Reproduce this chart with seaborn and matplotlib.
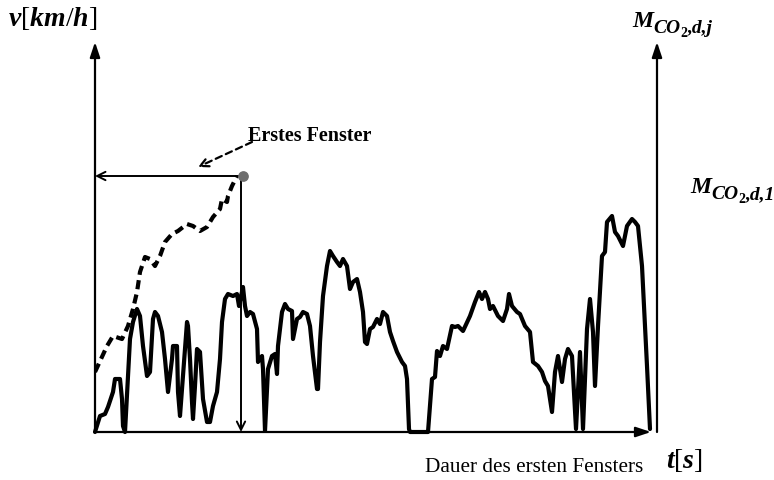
import matplotlib
matplotlib.use("Agg")
import matplotlib.pyplot as plt
import seaborn as sns
import pandas as pd

sns.set_style("white")
plt.rcParams['mathtext.fontset'] = 'custom'
plt.rcParams['mathtext.it'] = 'Liberation Serif:italic:bold'
plt.rcParams['mathtext.rm'] = 'Liberation Serif'
plt.rcParams['mathtext.bf'] = 'Liberation Serif:bold'
plt.rcParams['font.family'] = ['Liberation Serif', 'DejaVu Serif']
plt.rcParams['text.color'] = 'black'

# speed profile (t in s, v in km/h, schematic)
t_speed = [0, 10, 20, 26, 36, 40, 50, 54, 56, 60, 70, 76, 84, 90, 96, 104, 110, 116, 120, 126,
           134, 140, 146, 154, 156, 164, 166, 170, 176, 184, 186, 190, 194, 196, 200, 204, 210,
           216, 224, 230, 236, 244, 250, 254, 260, 266, 276, 284, 288, 294, 296, 300, 304, 310,
           316, 324, 326, 334, 336, 340, 346, 354, 360, 364, 366, 374, 380, 386, 394, 396, 404,
           410, 416, 424, 430, 436, 444, 446, 450, 456, 464, 470, 476, 484, 490, 496, 504, 510,
           516, 524, 530, 536, 540, 544, 550, 556, 564, 570, 576, 584, 590, 596, 604, 614, 620,
           624, 628, 630, 666, 674, 680, 684, 690, 696, 704, 714, 720, 726, 736, 750, 760, 768,
           774, 780, 786, 790, 796, 806, 816, 824, 828, 834, 844, 850, 860, 870, 876, 886, 894,
           900, 906, 914, 920, 926, 934, 940, 946, 954, 962, 970, 976, 984, 990, 996, 1000, 1006,
           1014, 1020, 1024, 1034, 1040, 1046, 1056, 1064, 1074, 1080, 1086, 1094, 1104, 1110]
v_speed = [0, 8, 9, 12.5, 20, 26.5, 26.5, 16.5, 3, 0, 46.5, 55, 61.5, 58, 43, 28, 30, 56.5, 60, 58,
           50, 36.5, 20, 36.5, 43, 43, 20, 8, 28, 55, 53, 36.5, 15, 6.5, 23, 41.5, 40,
           16.5, 5, 5, 13, 20, 36.5, 55, 66.5, 69, 68, 69, 63, 70, 72.5, 63, 58, 60,
           59, 51.5, 35, 38, 31.5, 0.5, 31.5, 38, 39, 29, 43, 60, 64, 61.5, 60.5, 46.5, 56.5,
           57.5, 60, 59, 53, 38, 21.5, 21.5, 45, 68, 83, 90.5, 88, 85, 83, 86.5, 83, 71.5,
           75, 76.5, 70, 60, 45, 44, 51.5, 52.5, 56.5, 54, 60, 58, 50, 45.5, 40, 35, 33,
           26.5, 1.5, 0, 0, 26.5, 27.5, 40.5, 38, 43, 41.5, 53, 52.5, 53, 50.5, 58, 65, 70,
           66.5, 70, 66.5, 61.5, 63, 58, 55.5, 61.5, 69, 63, 60, 59, 53, 50, 35, 33, 30,
           25.5, 23, 10, 30, 38, 25, 36.5, 41.5, 38, 1.5, 40, 1.5, 51.5, 66.5, 50, 23, 53,
           88, 90, 105, 108, 100, 98, 93, 103, 106.5, 105, 103, 83, 33, 1.5]

# CO2 mass in first window (dashed, cumulative)
t_co2 = [0, 24, 36, 54, 66, 76, 84, 90, 100, 110, 120, 130, 140, 154, 166, 184, 196, 210,
         224, 236, 250, 254, 264, 266, 274, 284]
m_co2 = [30, 43, 48, 46.5, 53, 61.5, 70, 80, 87.5, 86.5, 83, 88, 95, 99, 100.5, 104, 103, 100.5,
         102.5, 107.5, 111.5, 116.5, 115, 118, 123, 128]

t_window_end = 292
t_dot = 296
m_window = 128

W, H = 774, 481
fig = plt.figure(figsize=(W / 100, H / 100), dpi=100)
ax = fig.add_axes([95 / W, 48 / H, 562 / W, 390 / H])
ax.set_xlim(0, 1124)
ax.set_ylim(0, 195)
for s in ax.spines.values():
    s.set_visible(False)
ax.set_xticks([])
ax.set_yticks([])

df_speed = pd.DataFrame({"t": t_speed, "v": v_speed})
df_co2 = pd.DataFrame({"t": t_co2, "m": m_co2})

sns.lineplot(data=df_speed, x="t", y="v", ax=ax, sort=False, estimator=None,
             color="black", lw=3, clip_on=False, zorder=3)
sns.lineplot(data=df_co2, x="t", y="m", ax=ax, sort=False, estimator=None,
             color="black", lw=3, dashes=False, zorder=3)
ax.lines[-1].set_dashes((2.2, 1.3))
ax.set_xlabel("")
ax.set_ylabel("")

axis_arrow = dict(arrowstyle="-|>,head_length=0.9,head_width=0.3", lw=1.6, color="black",
                  shrinkA=0, shrinkB=0)
ax.annotate("", xy=(0, 195), xytext=(0, 0), arrowprops=axis_arrow, annotation_clip=False)
ax.annotate("", xy=(1124, 195), xytext=(1124, 0), arrowprops=axis_arrow, annotation_clip=False)
ax.annotate("", xy=(1112, 0), xytext=(0, 0), arrowprops=axis_arrow, annotation_clip=False)

thin_arrow = dict(arrowstyle="->,head_length=0.6,head_width=0.3", lw=1.4, color="black",
                  shrinkA=0, shrinkB=0)
ax.annotate("", xy=(0, m_window), xytext=(t_dot, m_window), arrowprops=thin_arrow,
            annotation_clip=False)
ax.annotate("", xy=(t_window_end, 0), xytext=(t_window_end, m_window), arrowprops=thin_arrow,
            annotation_clip=False)
ax.scatter([t_dot], [m_window], s=45, color="#6e6e6e", zorder=6)

ax.annotate("", xy=(206, 132.5), xytext=(314, 145),
            arrowprops=dict(arrowstyle="->,head_length=0.6,head_width=0.3", lw=1.6,
                            color="black", linestyle=(0, (3, 2)), shrinkA=0, shrinkB=0))
ax.text(306, 148.5, "Erstes Fenster", fontsize=14.5, fontweight="bold", va="center", ha="left",
        color="black")

fig.text(8 / W, 1 - 19 / H, r"$v[km/h]$", fontsize=20, va="center", ha="left", color="black")
fig.text(666 / W, 1 - 461 / H, r"$t[s]$", fontsize=20, va="center", ha="left", color="black")
fig.text(425 / W, 1 - 468 / H, "Dauer des ersten Fensters", fontsize=15.3,
         va="center", ha="left", color="black")

renderer = fig.canvas.get_renderer()


def compose(x_px, base_px, parts):
    x = x_px
    for txt, size, dy, style in parts:
        t = fig.text(x / W, 1 - (base_px + dy) / H, txt, fontsize=size, fontweight="bold",
                     fontstyle=style, va="baseline", ha="left", color="black")
        x += t.get_window_extent(renderer).width


m_parts = lambda last: [("M", 17, 0, "italic"), ("CO", 14, 6, "italic"),
                        ("2", 10, 10, "normal"), (last, 14, 6, "italic")]
compose(632, 27, m_parts(",d,j"))
compose(690, 193, m_parts(",d,1"))

fig.savefig("out.png", dpi=100)
